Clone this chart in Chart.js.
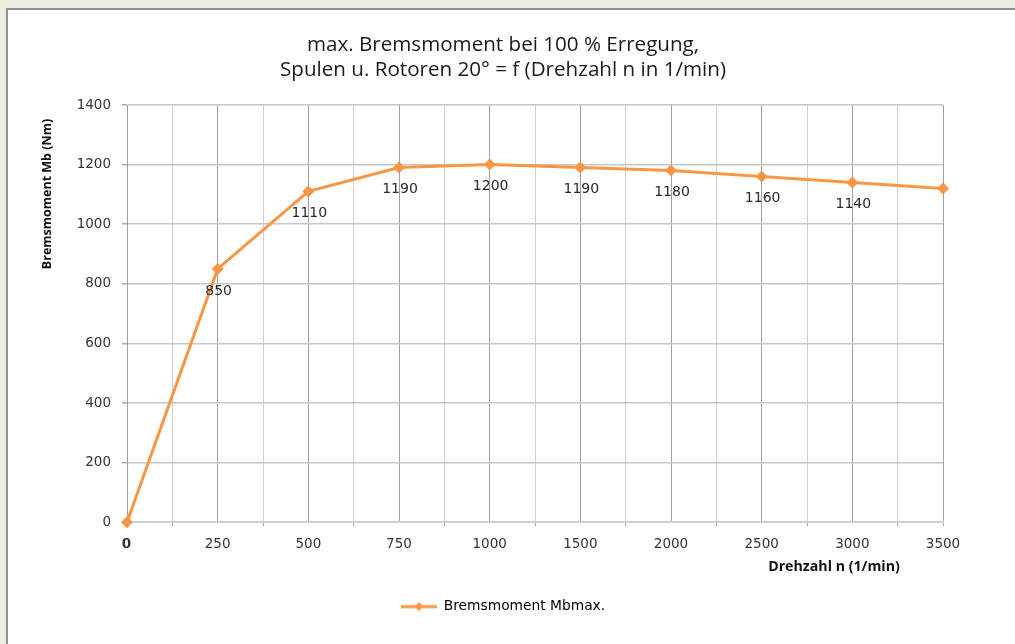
<!DOCTYPE html>
<html>
<head>
<meta charset="utf-8">
<script src="https://cdn.jsdelivr.net/npm/chart.js@4.4.1/dist/chart.umd.min.js"></script>
<style>
  html, body { margin: 0; padding: 0; width: 1015px; height: 644px; overflow: hidden; background: #eeece1; }
  #panel { position: absolute; left: 6px; top: 8px; width: 1020px; height: 650px; background: #ffffff;
           border-left: 2px solid #8e8e8e; border-top: 2px solid #8e8e8e; }
  #wrap { position: absolute; left: 8px; top: 10px; width: 990px; height: 634px; }
</style>
</head>
<body>
<div id="panel"></div>
<div id="wrap"><canvas id="c" width="990" height="634"></canvas></div>
<script>
// ---- data ----
const categories = ['0', '250', '500', '750', '1000', '1500', '2000', '2500', '3000', '3500'];
const brakeTorque = [0, 850, 1110, 1190, 1200, 1190, 1180, 1160, 1140, 1120];
const titleLines = ['max. Bremsmoment bei 100 % Erregung,', 'Spulen u. Rotoren 20° = f (Drehzahl n in 1/min)'];
const seriesName = 'Bremsmoment Mbmax.';
const yAxisTitle = 'Bremsmoment Mb (Nm)';
const xAxisTitle = 'Drehzahl n (1/min)';
const yMin = 0, yMax = 1400, yStep = 200;

const ORANGE = '#f79646';
const TICK_FONT = 'DejaVu Sans';

// legend symbol: line with diamond
function legendSymbol() {
  const c = document.createElement('canvas');
  c.width = 36; c.height = 12;
  const g = c.getContext('2d');
  g.strokeStyle = ORANGE; g.lineWidth = 3;
  g.beginPath(); g.moveTo(0, 6); g.lineTo(36, 6); g.stroke();
  g.fillStyle = ORANGE;
  g.beginPath(); g.moveTo(18, 1.5); g.lineTo(22.5, 6); g.lineTo(18, 10.5); g.lineTo(13.5, 6); g.closePath(); g.fill();
  return c;
}

const extraText = {
  id: 'extraText',
  afterDatasetsDraw(chart) {
    const ctx = chart.ctx;
    const meta = chart.getDatasetMeta(0);
    ctx.save();
    // data labels below points (last point has none)
    ctx.font = '14px "' + TICK_FONT + '"';
    ctx.fillStyle = '#2a2a2a';
    ctx.textAlign = 'center';
    ctx.textBaseline = 'middle';
    meta.data.forEach((pt, i) => {
      if (i === meta.data.length - 1) return;
      ctx.fillText(String(brakeTorque[i]), pt.x + (i === 0 ? -1 : 1), pt.y + 22);
    });
    // axis titles
    ctx.fillStyle = '#111111';
    ctx.font = 'bold 14.2px "Open Sans"';
    ctx.fillText(xAxisTitle, 834 - 8, 557);
    ctx.font = 'bold 12.5px "Open Sans"';
    ctx.translate(39, 184);
    ctx.rotate(-Math.PI / 2);
    ctx.fillText(yAxisTitle, 0, 0);
    ctx.restore();
  }
};

new Chart(document.getElementById('c'), {
  type: 'line',
  data: {
    datasets: [{
      label: seriesName,
      data: brakeTorque.map((v, i) => ({ x: i, y: v })),
      borderColor: ORANGE,
      backgroundColor: ORANGE,
      borderWidth: 3,
      pointStyle: 'rectRot',
      pointRadius: 6,
      pointBorderWidth: 0,
      pointBackgroundColor: ORANGE,
      tension: 0,
      clip: false
    }]
  },
  options: {
    responsive: false,
    animation: false,
    devicePixelRatio: 1,
    layout: { padding: { left: 0, right: 0, top: 0, bottom: 20.5 } },
    plugins: {
      title: {
        display: true,
        text: titleLines,
        color: '#1a1a1a',
        font: { family: 'Open Sans', size: 20.6, weight: 'normal', lineHeight: 25 / 20.6 },
        padding: { top: 22.5, bottom: 22.5 }
      },
      legend: {
        display: true,
        position: 'bottom',
        labels: {
          usePointStyle: true,
          pointStyleWidth: 36,
          padding: 10,
          color: '#222222',
          font: { family: TICK_FONT, size: 13.8 },
          generateLabels: (chart) => [{
            text: seriesName,
            pointStyle: legendSymbol(),
            fillStyle: ORANGE, strokeStyle: ORANGE, lineWidth: 0,
            datasetIndex: 0, hidden: false
          }]
        }
      },
      tooltip: { enabled: false }
    },
    scales: {
      x: {
        type: 'linear',
        min: 0,
        max: categories.length - 1,
        afterBuildTicks: (s) => {
          const t = [];
          for (let i = 0; i <= (categories.length - 1) * 2; i++) t.push({ value: i / 2 });
          s.ticks = t;
        },
        afterFit: (s) => { s.height = 67.5; },
        ticks: {
          autoSkip: false,
          maxRotation: 0,
          padding: 10,
          color: '#333333',
          font: { family: TICK_FONT, size: 13.5 },
          callback: (v) => Number.isInteger(v) ? categories[v] : ''
        },
        grid: {
          color: (c) => (c.tick && Number.isInteger(c.tick.value)) ? '#a0a0a0' : '#cfcfcf',
          tickColor: (c) => (c.tick && (!Number.isInteger(c.tick.value) || c.tick.value === categories.length - 1)) ? '#a8a8a8' : 'rgba(0,0,0,0)',
          tickLength: 4,
          lineWidth: 1
        },
        border: { display: true, color: '#cfcfcf', width: 2 }
      },
      y: {
        type: 'linear',
        min: yMin,
        max: yMax,
        afterFit: (s) => { s.width = 119; },
        ticks: {
          stepSize: yStep,
          padding: 11,
          color: '#333333',
          font: { family: TICK_FONT, size: 13.5 },
          callback: (v) => String(v)
        },
        grid: { color: '#c6c6c6', lineWidth: 1.5, tickLength: 5, tickColor: '#a8a8a8' },
        border: { display: true, color: '#a0a0a0', width: 1 }
      },
      yR: {
        type: 'linear',
        position: 'right',
        min: yMin, max: yMax,
        afterFit: (s) => { s.width = 55; },
        ticks: { display: false },
        grid: { display: false, drawTicks: false },
        border: { display: false }
      }
    }
  },
  plugins: [extraText]
});
</script>
</body>
</html>
